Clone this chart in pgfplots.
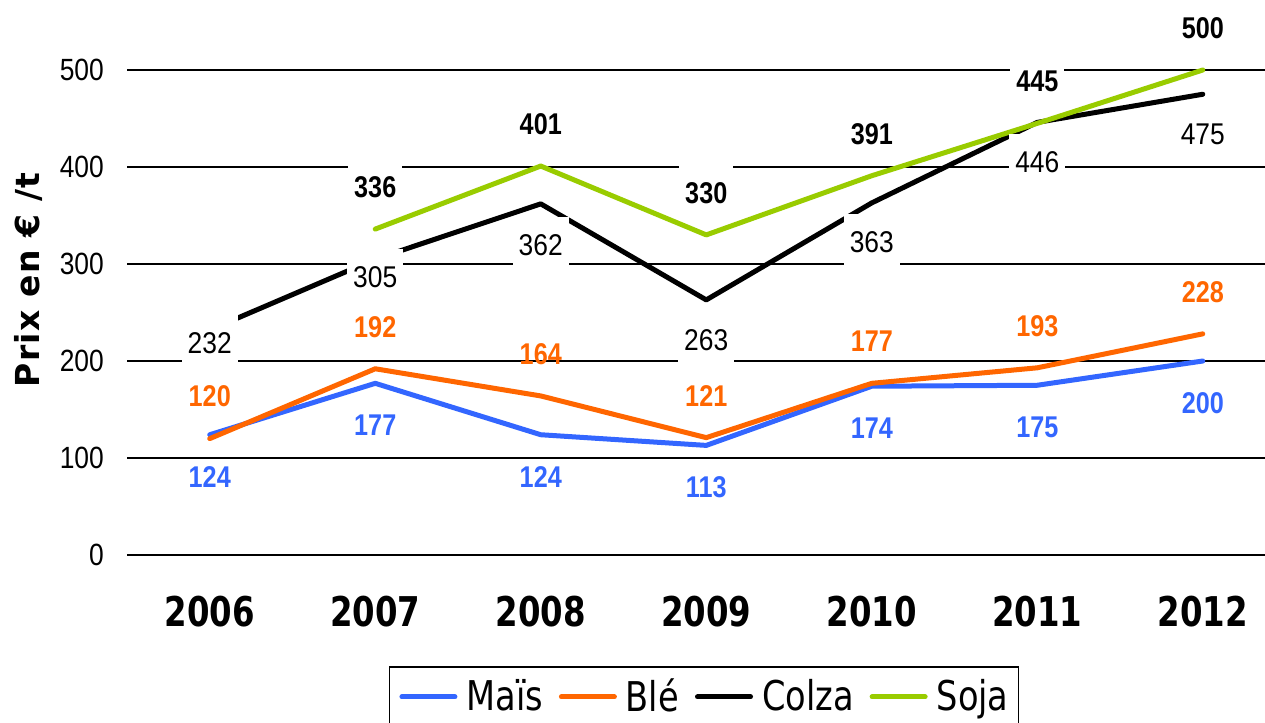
\documentclass[border=0pt]{standalone}
\usepackage{fontspec}
\usepackage{pgfplots}
\pgfplotsset{compat=1.18}
\usepackage{pgfplotstable}
\setmainfont{Liberation Sans}
\newfontfamily\tickfont{Liberation Sans}[FakeStretch=0.86]
\newfontfamily\labfont{Liberation Sans}[FakeStretch=0.84]
\newfontfamily\colfont{Liberation Sans}[FakeStretch=0.88]
\newfontfamily\xfont{DejaVu Sans}[FakeStretch=0.79]
\newfontfamily\legfont{DejaVu Sans}[FakeStretch=0.82]
\newfontfamily\ylfont{DejaVu Sans}[LetterSpace=4]
\definecolor{cmais}{RGB}{51,102,255}
\definecolor{cble}{RGB}{255,102,0}
\definecolor{csoja}{RGB}{153,204,0}

\pgfplotstableread{
x y lab
0 124 124
1 177 177
2 124 124
3 113 113
4 174 174
5 175 175
6 200 200
}\mais
\pgfplotstableread{
x y lab
0 120 120
1 192 192
2 164 164
3 121 121
4 177 177
5 193 193
6 228 228
}\ble
\pgfplotstableread{
x y lab dy
0 232 232 -13
1 305 305 -18
2 362 362 -41
3 263 263 -40
4 363 363 -39
5 446 446 -40
6 475 475 -40
}\colza
\pgfplotstableread{
x y lab
1 336 336
2 401 401
3 330 330
4 391 391
5 445 445
6 500 500
}\soja

\begin{document}
\begin{tikzpicture}
\begin{axis}[
  scale only axis, width=1138pt, height=485pt,
  xmin=-0.5, xmax=6.376, ymin=0, ymax=500,
  clip=false,
  axis line style={draw=none},
  xtick={0,1,2,3,4,5,6},
  xticklabels={2006,2007,2008,2009,2010,2011,2012},
  ytick={0,100,200,300,400,500},
  /pgf/number format/assume math mode=true,
  ymajorgrids, major grid style={black, line width=2pt},
  major tick length=0pt,
  xticklabel style={font=\xfont\bfseries\fontsize{41}{44}\selectfont, anchor=center, yshift=-57pt},
  yticklabel style={font=\tickfont\fontsize{30.7}{32}\selectfont, anchor=east, inner sep=0pt, xshift=-23pt},
  ylabel={Prix en € /t},
  every axis y label/.style={at={(rel axis cs:0,0.567)}, xshift=-99pt, rotate=90, anchor=center, font=\ylfont\bfseries\fontsize{33}{36}\selectfont},
  legend columns=4,
  legend style={at={(rel axis cs:0.507,0)}, anchor=north, yshift=-111pt, draw=black, line width=1.5pt,
    font=\legfont\fontsize{41}{44}\selectfont, inner xsep=10pt, inner ysep=12pt, nodes={inner sep=0pt},
    /tikz/every odd column/.append style={column sep=9pt},
    /tikz/every even column/.append style={column sep=16pt}},
  legend image code/.code={\draw[#1, line width=5pt, line cap=round] (2.5pt,-1pt) -- (55.5pt,-1pt);},
]
\addplot[cmais, line width=5pt, line join=round, line cap=round] table[x=x,y=y]{\mais};
\addlegendentry{Maïs}
\addplot[cble, line width=5pt, line join=round, line cap=round] table[x=x,y=y]{\ble};
\addlegendentry{Blé}
\addplot[black, line width=5pt, line join=round, line cap=round] table[x=x,y=y]{\colza};
\addlegendentry{Colza}
\addplot[csoja, line width=5pt, line join=round, line cap=round] table[x=x,y=y]{\soja};
\addlegendentry{Soja}

\addplot[forget plot, draw=none, nodes near coords, point meta=explicit symbolic,
  every node near coord/.append style={font=\labfont\bfseries\fontsize{30}{32}\selectfont, text=cmais, anchor=center, yshift=-42pt}]
  table[x=x,y=y,meta=lab]{\mais};
\addplot[forget plot, draw=none, nodes near coords, point meta=explicit symbolic,
  every node near coord/.append style={font=\labfont\bfseries\fontsize{30}{32}\selectfont, text=cble, anchor=center, yshift=42pt}]
  table[x=x,y=y,meta=lab]{\ble};
\addplot[forget plot, draw=none, nodes near coords, point meta=explicit symbolic,
  visualization depends on={\thisrow{dy} \as \dy},
  every node near coord/.append style={font=\colfont\fontsize{30}{32}\selectfont, text=black, fill=white, inner xsep=6pt, minimum height=56pt, anchor=center, yshift=\dy pt}]
  table[x=x,y=y,meta=lab]{\colza};
\addplot[forget plot, draw=none, nodes near coords, point meta=explicit symbolic,
  every node near coord/.append style={font=\labfont\bfseries\fontsize{30}{32}\selectfont, text=black, fill=white, inner xsep=6pt, minimum height=56pt, anchor=center, yshift=42pt}]
  table[x=x,y=y,meta=lab]{\soja};
\coordinate (SW) at (rel axis cs:0,0);
\coordinate (NE) at (rel axis cs:1,1);
\end{axis}
\pgfresetboundingbox
\path[use as bounding box] ([xshift=-127pt,yshift=-167pt]SW) rectangle ([yshift=70pt]NE);
\end{tikzpicture}
\end{document}
